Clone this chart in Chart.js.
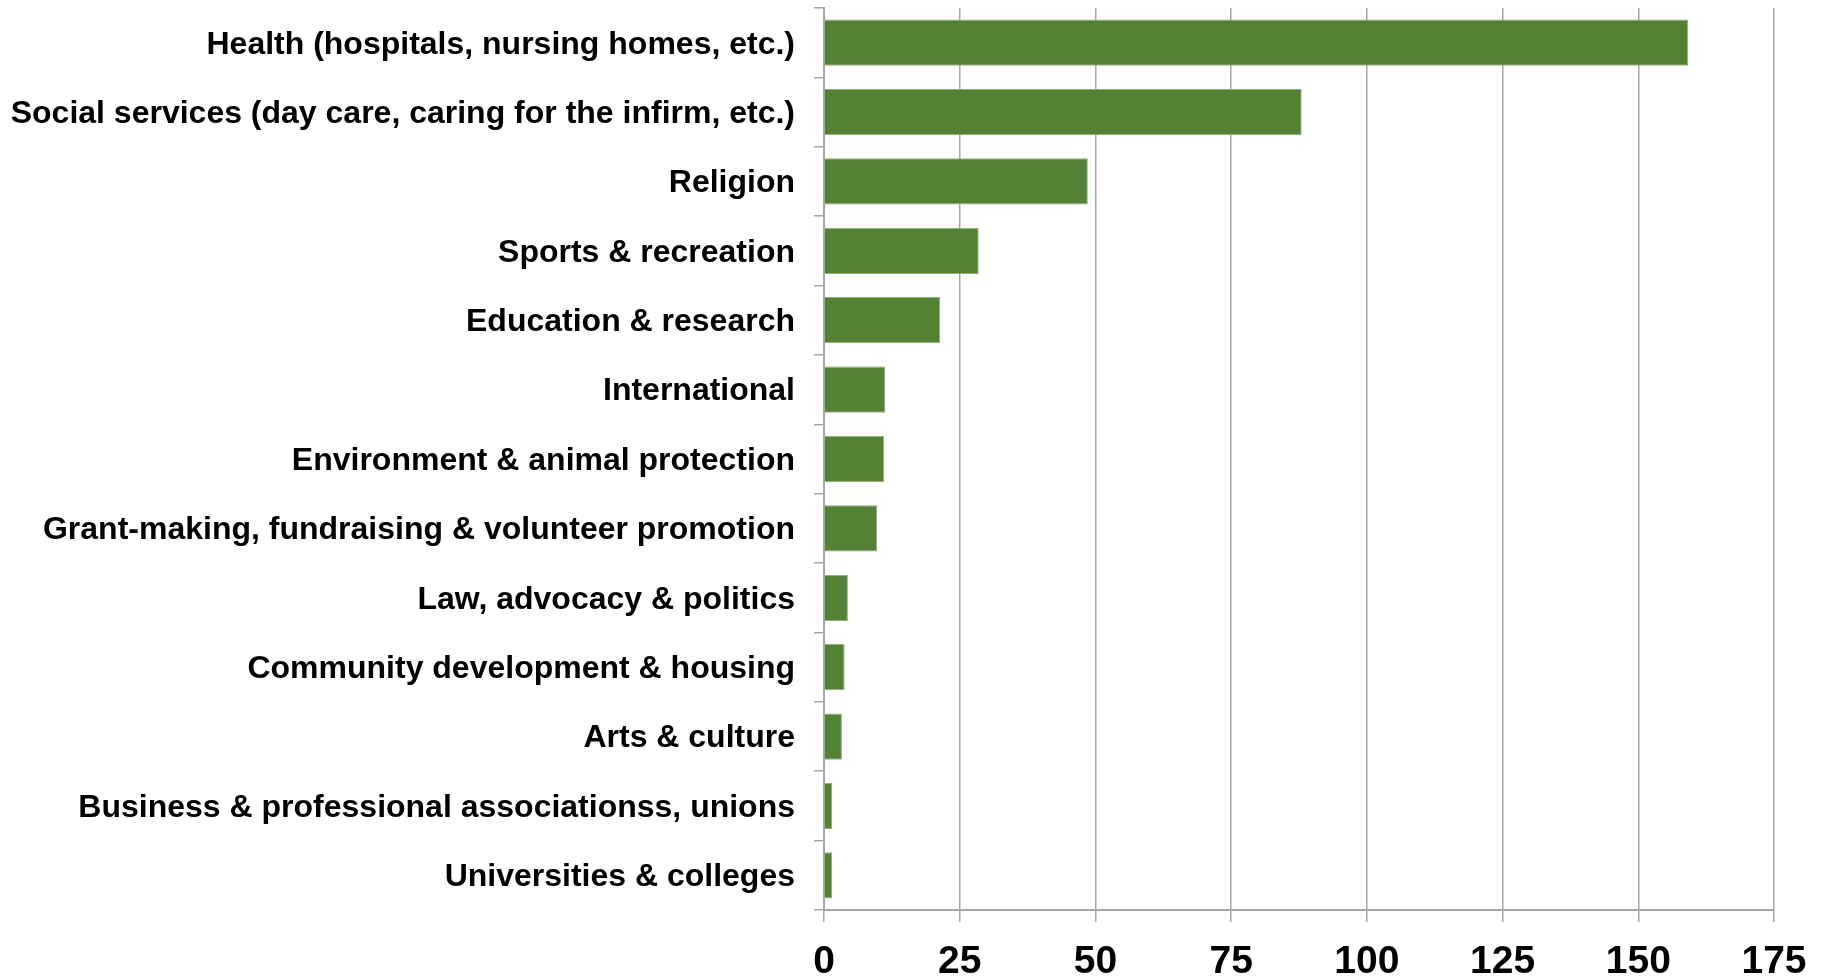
<!DOCTYPE html>
<html>
<head>
<meta charset="utf-8">
<script src="https://cdn.jsdelivr.net/npm/chart.js@4/dist/chart.umd.min.js"></script>
<style>
  html, body { margin: 0; padding: 0; background: #ffffff; }
  #wrap { width: 1829px; height: 980px; position: relative; }
</style>
</head>
<body>
<div id="wrap"><canvas id="chart"></canvas></div>
<script>
// Nonprofit sectors and their values
const categories = [
  "Health (hospitals, nursing homes, etc.)",
  "Social services (day care, caring for the infirm, etc.)",
  "Religion",
  "Sports & recreation",
  "Education & research",
  "International",
  "Environment & animal protection",
  "Grant-making, fundraising & volunteer promotion",
  "Law, advocacy & politics",
  "Community development & housing",
  "Arts & culture",
  "Business & professional associationss, unions",
  "Universities & colleges"
];
const values = [159.2, 88.0, 48.6, 28.5, 21.4, 11.3, 11.1, 9.8, 4.4, 3.8, 3.3, 1.5, 1.5];
const xTicks = [0, 25, 50, 75, 100, 125, 150, 175];

const FONT = "'Liberation Sans', Arial, Helvetica, sans-serif";
const GRID = "#a6a6a6";

new Chart(document.getElementById("chart"), {
  type: "bar",
  data: {
    labels: categories,
    datasets: [{
      data: values,
      backgroundColor: "#548235",
      borderColor: "#8fae78",
      borderWidth: 1,
      borderSkipped: "left",
      categoryPercentage: 1.0,
      barPercentage: 0.667
    }]
  },
  options: {
    indexAxis: "y",
    responsive: true,
    maintainAspectRatio: false,
    animation: false,
    layout: { padding: { top: 8, right: 55, left: 0, bottom: 0 } },
    plugins: { legend: { display: false }, tooltip: { enabled: false } },
    scales: {
      x: {
        min: 0,
        max: 175,
        afterBuildTicks: (axis) => { axis.ticks = xTicks.map(v => ({ value: v })); },
        afterFit: (axis) => { axis.height = 70; },
        grid: { color: GRID, lineWidth: 1.5, tickLength: 12, drawOnChartArea: true },
        border: { color: GRID, width: 2 },
        ticks: {
          color: "#000000",
          padding: 17,
          maxRotation: 0,
          font: { family: FONT, size: 39, weight: "bold" }
        }
      },
      y: {
        afterFit: (axis) => {
          axis.width = 824;
          axis.paddingTop = 0;
          axis.paddingBottom = 0;
        },
        grid: { color: GRID, lineWidth: 1.5, tickLength: 10, offset: true, drawOnChartArea: false },
        border: { color: GRID, width: 2 },
        ticks: {
          color: "#000000",
          padding: 19,
          labelOffset: 2,
          autoSkip: false,
          font: { family: FONT, size: 32, weight: "bold" }
        }
      }
    }
  }
});
</script>
</body>
</html>
